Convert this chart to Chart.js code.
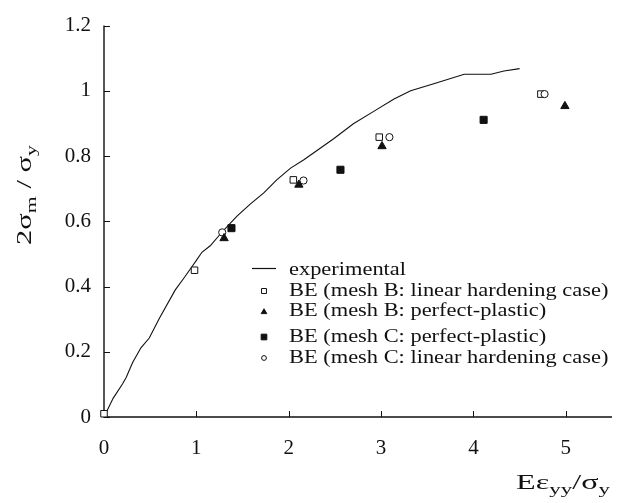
<!DOCTYPE html>
<html>
<head>
<meta charset="utf-8">
<script src="https://cdn.jsdelivr.net/npm/chart.js@4/dist/chart.umd.min.js"></script>
<style>
  html, body { margin: 0; padding: 0; background: #fff; }
  #wrap { width: 621px; height: 503px; }
</style>
</head>
<body>
<div id="wrap"><canvas id="c" width="621" height="503"></canvas></div>
<script>
// Experimental curve
const expX = [0, 0.10, 0.20, 0.24, 0.31, 0.40, 0.49, 0.60, 0.77, 0.86, 0.95, 1.00, 1.06, 1.15, 1.29, 1.44, 1.58, 1.73, 1.87, 2.02, 2.16, 2.31, 2.49, 2.70, 2.92, 3.14, 3.32, 3.57, 3.90, 4.19, 4.33, 4.50];
const expY = [0, 0.058, 0.101, 0.121, 0.167, 0.212, 0.242, 0.303, 0.389, 0.424, 0.460, 0.480, 0.505, 0.525, 0.571, 0.616, 0.652, 0.687, 0.727, 0.763, 0.788, 0.818, 0.854, 0.899, 0.937, 0.975, 1.000, 1.022, 1.051, 1.051, 1.061, 1.068];

// Boundary element results
const meshBLinX = [0, 0.98, 2.05, 2.98, 4.73];
const meshBLinY = [0.01, 0.45, 0.727, 0.858, 0.99];
const meshBPerfX = [1.30, 2.11, 3.01, 4.99];
const meshBPerfY = [0.548, 0.712, 0.830, 0.953];
const meshCPerfX = [1.38, 2.56, 4.11];
const meshCPerfY = [0.579, 0.758, 0.911];
const meshCLinX = [1.28, 2.16, 3.09, 4.77];
const meshCLinY = [0.566, 0.725, 0.858, 0.99];

// Axis ticks
const xTicks = [0, 1, 2, 3, 4, 5];
const yTicks = [0, 0.2, 0.4, 0.6, 0.8, 1, 1.2];

const seriesNames = [
  'experimental',
  'BE (mesh B: linear hardening case)',
  'BE (mesh B: perfect-plastic)',
  'BE (mesh C: perfect-plastic)',
  'BE (mesh C: linear hardening case)'
];

const SERIF = '"Liberation Serif", "Times New Roman", serif';
const INK = '#111';

const pts = (xs, ys) => xs.map((x, i) => ({ x, y: ys[i] }));

// Draw a run of text pieces (with optional subscripts), stretched horizontally
function drawRich(ctx, pieces, x, y, targetWidth) {
  ctx.save();
  let w = 0;
  const widths = pieces.map(p => {
    ctx.font = p.size + 'px ' + SERIF;
    const m = ctx.measureText(p.text).width;
    w += m;
    return m;
  });
  const sx = targetWidth ? targetWidth / w : 1;
  ctx.translate(x, y);
  ctx.scale(sx, 1);
  ctx.fillStyle = INK;
  ctx.textBaseline = 'alphabetic';
  ctx.textAlign = 'left';
  let cx = 0;
  pieces.forEach((p, i) => {
    ctx.font = p.size + 'px ' + SERIF;
    ctx.fillText(p.text, cx, p.dy || 0);
    cx += widths[i];
  });
  ctx.restore();
}

const frame = {
  id: 'frame',
  beforeDatasetsDraw(chart) {
    const { ctx, chartArea: a, scales } = chart;
    ctx.save();
    ctx.strokeStyle = INK;
    ctx.lineWidth = 1.4;
    ctx.beginPath();
    ctx.moveTo(a.left, a.top);
    ctx.lineTo(a.left, a.bottom);
    ctx.lineTo(a.right, a.bottom);
    ctx.stroke();
    ctx.lineWidth = 1;
    ctx.beginPath();
    xTicks.forEach(v => {
      const px = Math.round(scales.x.getPixelForValue(v)) + 0.5;
      ctx.moveTo(px, a.bottom);
      ctx.lineTo(px, a.bottom - 6);
    });
    yTicks.forEach(v => {
      const py = Math.round(scales.y.getPixelForValue(v)) + 0.5;
      ctx.moveTo(a.left, py);
      ctx.lineTo(a.left + 6, py);
    });
    ctx.stroke();
    ctx.restore();
  },
  afterDraw(chart) {
    const { ctx } = chart;
    // x-axis title: E eps_yy / sigma_y
    drawRich(ctx, [
      { text: 'E\u03b5', size: 21 },
      { text: 'yy', size: 15, dy: 5 },
      { text: '/\u03c3', size: 21 },
      { text: 'y', size: 15, dy: 5 }
    ], 516, 489, 94);

    // y-axis title: 2 sigma_m / sigma_y (rotated)
    ctx.save();
    ctx.translate(31, 245);
    ctx.rotate(-Math.PI / 2);
    drawRich(ctx, [
      { text: '2\u03c3', size: 21 },
      { text: 'm', size: 15, dy: 5 },
      { text: ' / \u03c3', size: 21 },
      { text: 'y', size: 15, dy: 5 }
    ], 0, 0, 100);
    ctx.restore();

    // legend
    const rowsY = [270, 291, 311, 337, 358];
    const markX = 264;
    const textX = 289;
    const ds = chart.data.datasets;
    const legendRadius = [0, 3.5, 3.2, 4, 2.4];
    rowsY.forEach((ry, i) => {
      ctx.save();
      if (i === 0) {
        ctx.strokeStyle = INK;
        ctx.lineWidth = 1.2;
        ctx.beginPath();
        ctx.moveTo(252, ry - 1.5);
        ctx.lineTo(276, ry - 1.5);
        ctx.stroke();
      } else {
        const d = ds[i];
        ctx.fillStyle = d.backgroundColor;
        ctx.strokeStyle = d.borderColor;
        ctx.lineWidth = 1;
        Chart.helpers.drawPoint(ctx, {
          pointStyle: d.pointStyle,
          radius: legendRadius[i],
          rotation: 0,
          borderWidth: 1
        }, markX, ry + (d.pointStyle === 'triangle' ? 1 : 0));
      }
      ctx.restore();
      ctx.save();
      ctx.font = '19px ' + SERIF;
      ctx.fillStyle = INK;
      ctx.textBaseline = 'middle';
      ctx.translate(textX, ry);
      ctx.scale(1.18, 1);
      ctx.fillText(seriesNames[i], 0, 0);
      ctx.restore();
    });
  }
};

const markerBase = { showLine: false, borderWidth: 1, borderColor: INK, clip: false };

new Chart(document.getElementById('c'), {
  type: 'scatter',
  data: {
    datasets: [
      {
        label: seriesNames[0], type: 'line', data: pts(expX, expY),
        borderColor: INK, borderWidth: 1.1, pointRadius: 0, tension: 0,
        fill: false, order: 5, clip: false, backgroundColor: INK
      },
      {
        ...markerBase, label: seriesNames[1], data: pts(meshBLinX, meshBLinY),
        pointStyle: 'rect', pointRadius: 4.6, backgroundColor: '#fff', order: 4
      },
      {
        ...markerBase, label: seriesNames[2], data: pts(meshBPerfX, meshBPerfY),
        pointStyle: 'triangle', pointRadius: 4.8, backgroundColor: INK, order: 1
      },
      {
        ...markerBase, label: seriesNames[3], data: pts(meshCPerfX, meshCPerfY),
        pointStyle: 'rect', pointRadius: 5, backgroundColor: INK, order: 2
      },
      {
        ...markerBase, label: seriesNames[4], data: pts(meshCLinX, meshCLinY),
        pointStyle: 'circle', pointRadius: 3.6, backgroundColor: '#fff', order: 3
      }
    ]
  },
  options: {
    responsive: false,
    devicePixelRatio: 1,
    animation: false,
    layout: { padding: { top: 22, right: 9, left: 0, bottom: 0 } },
    plugins: { legend: { display: false }, tooltip: { enabled: false } },
    elements: { point: { hoverRadius: 0 } },
    scales: {
      x: {
        type: 'linear', min: 0, max: 5.5,
        grid: { display: false, drawTicks: false },
        border: { display: false },
        afterBuildTicks: s => { s.ticks = xTicks.map(v => ({ value: v })); },
        afterFit: s => { s.height = 86; },
        ticks: {
          font: { family: SERIF, size: 21 }, color: INK, padding: 19,
          maxRotation: 0, autoSkip: false,
          callback: v => String(v)
        }
      },
      y: {
        type: 'linear', min: 0, max: 1.2,
        grid: { display: false, drawTicks: false },
        border: { display: false },
        afterBuildTicks: s => { s.ticks = yTicks.map(v => ({ value: v })); },
        afterFit: s => { s.width = 104; },
        ticks: {
          font: { family: SERIF, size: 21 }, color: INK, padding: 13,
          autoSkip: false,
          callback: v => String(v)
        }
      }
    }
  },
  plugins: [frame]
});
</script>
</body>
</html>
